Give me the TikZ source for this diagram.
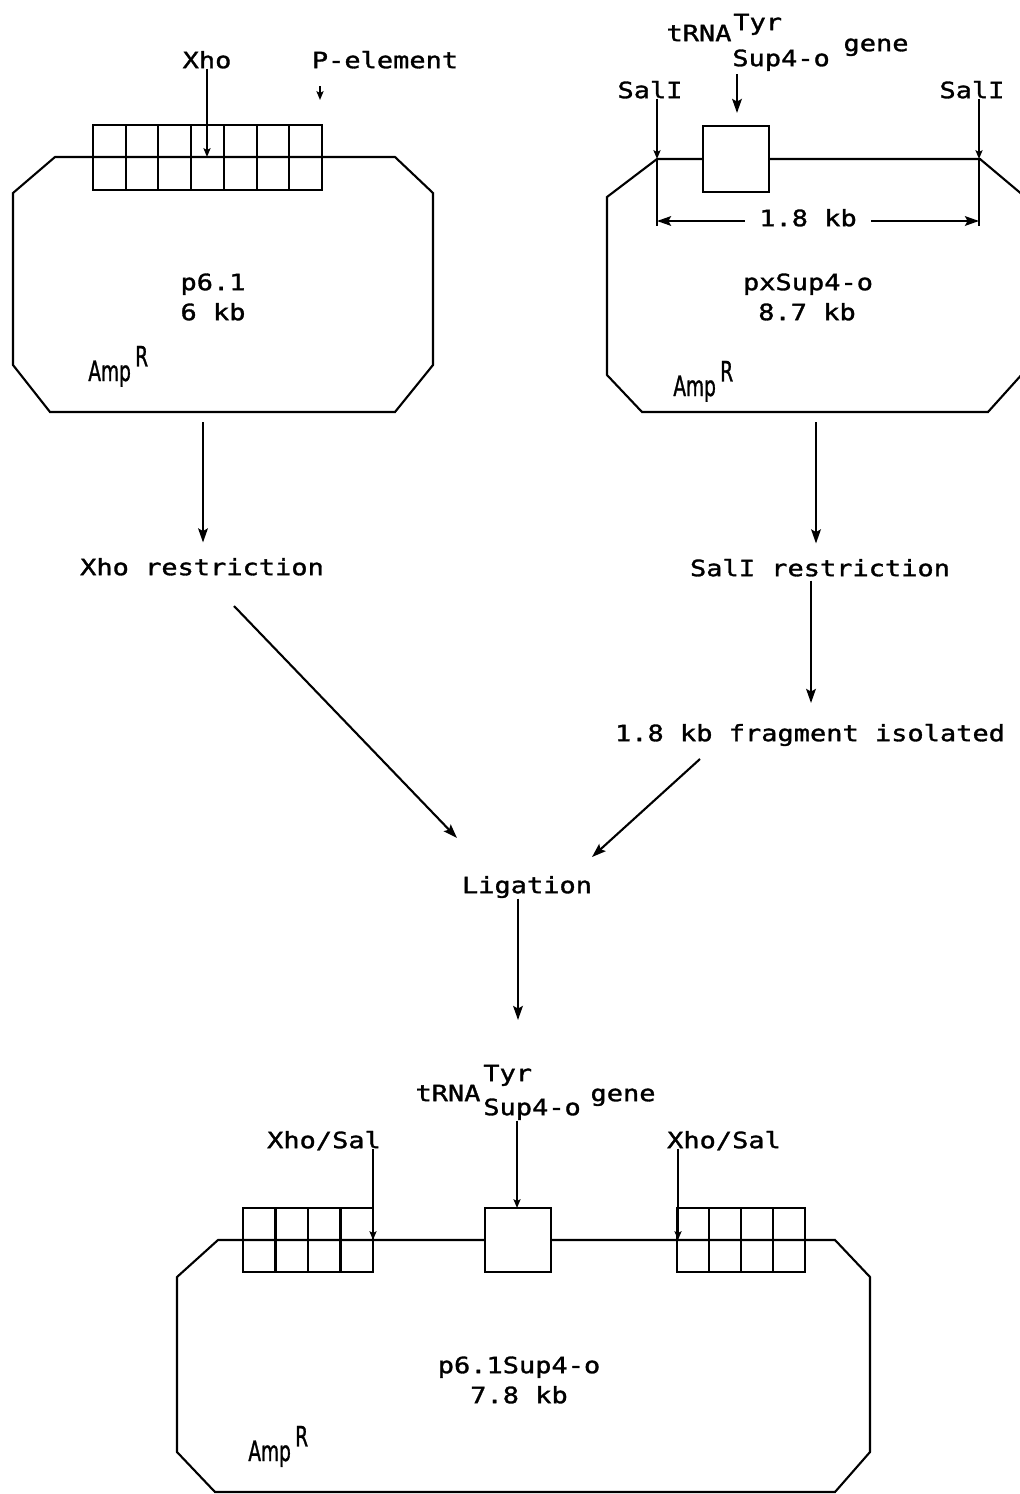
\documentclass[tikz,border=0pt]{standalone}
\usepackage{fontspec}
\newfontfamily\typefont[FakeStretch=1.2,FakeBold=1.4]{DejaVu Sans Mono}
\newfontfamily\ampfont[FakeStretch=0.66,FakeBold=1]{DejaVu Sans}
\usetikzlibrary{arrows.meta,positioning}

\tikzset{
  lbl/.style={inner sep=0pt, font=\fontsize{12.8}{15}\selectfont\typefont, text height=9.3pt, text depth=0pt},
  ampl/.style={inner sep=0pt, anchor=base west, font=\fontsize{16}{18}\selectfont\ampfont},
  wire/.style={line width=1.2pt},
  flow/.style={line width=1.2pt, -{Stealth[length=8pt,width=5.5pt,inset=1.5pt]}},
  site/.style={line width=1.1pt, -{Stealth[length=5pt,width=4pt,inset=1pt]}},
}
\newcommand\ampr{Amp\hspace{2.5pt}\raisebox{0.95ex}{R}}

\begin{document}
\begin{tikzpicture}[x=0.02cm,y=-0.02cm]
  \useasboundingbox (0,0) rectangle (1020,1494);

  % p6.1
  \draw[wire] (55,157) -- (395,157) -- (433,193) -- (433,365) -- (395,412)
    -- (50,412) -- (13,365) -- (13,193) -- cycle;
  \draw[wire] (93,125) rectangle (322,190);
  \foreach \k in {1,...,6}
    \draw[wire] ({93+\k*229/7},125) -- ++(0,65);
  \node[lbl] (xhoA) at (207,60) {Xho};
  \node[lbl] (pel) at (385,60) {P-element};
  \coordinate (xhocut) at (207,157);
  \coordinate (pcut) at (320,100);
  \draw[site] (xhoA.south) -- (xhocut);
  \draw[site] (pcut) ++(0,-14) -- (pcut);
  \node[lbl] (p61) at (213,282) {p6.1};
  \node[lbl] (kb6) at (213,312) {6 kb};
  \node[ampl] (amp1) at (88,381) {\ampr};

  % pxSup4-o
  \draw[wire] (657,159) -- (980,159) -- (1024,196) -- (1024,372) -- (988,412)
    -- (642,412) -- (607,375) -- (607,197) -- cycle;
  \draw[wire,fill=white] (703,126) rectangle (769,192);
  \node[lbl] (salL) at (650,90) {SalI};
  \node[lbl] (salR) at (972,90) {SalI};
  \coordinate (cutL) at (657,159);
  \coordinate (cutR) at (979,159);
  \draw[wire] (cutL) -- ++(0,67);
  \draw[wire] (cutR) -- ++(0,67);
  \draw[site] (cutL |- salL.south) -- (cutL);
  \draw[site] (cutR |- salR.south) -- (cutR);
  \node[lbl] (trnaA) at (699,33) {tRNA};
  \node[lbl,anchor=west] (tyrA) at (733,22) {Tyr};
  \node[lbl,anchor=west] (supA) at (732,58) {Sup4-o};
  \node[lbl] (geneA) at (876,43) {gene};
  \coordinate (genetop) at (737,113);
  \draw[flow,shorten <=0.15cm] (genetop |- supA.south) -- (genetop);
  \node[lbl] (dimlbl) at (808,218) {1.8 kb};
  \coordinate (dimL) at (657,221);
  \coordinate (dimR) at (979,221);
  \draw[flow,shorten <=0.28cm] (dimlbl.west |- dimL) -- (dimL);
  \draw[flow,shorten <=0.28cm] (dimlbl.east |- dimR) -- (dimR);
  \node[lbl] (pxs) at (808,282) {pxSup4-o};
  \node[lbl] (kb87) at (807,312) {8.7 kb};
  \node[ampl] (amp2) at (673,396) {\ampr};

  % steps
  \node[lbl] (xhoR) at (202,567) {Xho restriction};
  \node[lbl] (salRes) at (820,568) {SalI restriction};
  \node[lbl] (frag) at (810,733) {1.8 kb fragment isolated};
  \node[lbl] (lig) at (527,885) {Ligation};
  \coordinate (b1out) at (203,422);
  \coordinate (b2out) at (816,422);
  \coordinate (fragin) at (811,703);
  \coordinate (xhoOut) at (234,606);
  \coordinate (ligL) at (457,838);
  \coordinate (fragOut) at (700,759);
  \coordinate (ligR) at (592,857);
  \coordinate (b3in) at (518,1020);
  \draw[flow,shorten >=0.32cm] (b1out) -- (b1out |- xhoR.north);
  \draw[flow,shorten >=0.32cm] (b2out) -- (b2out |- salRes.north);
  \draw[flow,shorten <=0.08cm] (fragin |- salRes.south) -- (fragin);
  \draw[flow] (xhoOut) -- (ligL);
  \draw[flow] (fragOut) -- (ligR);
  \draw[flow,shorten <=0.1cm] (b3in |- lig.south) -- (b3in);

  % p6.1Sup4-o
  \draw[wire] (218,1240) -- (835,1240) -- (870,1277) -- (870,1452) -- (835,1492)
    -- (215,1492) -- (177,1452) -- (177,1277) -- cycle;
  \draw[wire] (243,1208) rectangle (373,1272);
  \foreach \k in {1,2,3}
    \draw[wire] ({243+\k*32.5},1208) -- ++(0,64);
  \draw[wire] (677,1208) rectangle (805,1272);
  \foreach \k in {1,2,3}
    \draw[wire] ({677+\k*32},1208) -- ++(0,64);
  \draw[wire,fill=white] (485,1208) rectangle (551,1272);
  \node[lbl] (trnaB) at (448,1093) {tRNA};
  \node[lbl,anchor=west] (tyrB) at (483,1073) {Tyr};
  \node[lbl,anchor=west] (supB) at (483,1107) {Sup4-o};
  \node[lbl] (geneB) at (623,1093) {gene};
  \node[lbl] (xsL) at (324,1140) {Xho/Sal};
  \node[lbl] (xsR) at (724,1140) {Xho/Sal};
  \coordinate (genetopB) at (517,1208);
  \coordinate (joinL) at (373,1240);
  \coordinate (joinR) at (678,1240);
  \draw[site,shorten <=0.1cm] (genetopB |- supB.south) -- (genetopB);
  \draw[site] (joinL |- xsL.south) -- (joinL);
  \draw[site] (joinR |- xsR.south) -- (joinR);
  \node[lbl] (p61s) at (519,1365) {p6.1Sup4-o};
  \node[lbl] (kb78) at (519,1395) {7.8 kb};
  \node[ampl] (amp3) at (248,1461) {\ampr};
\end{tikzpicture}
\end{document}
